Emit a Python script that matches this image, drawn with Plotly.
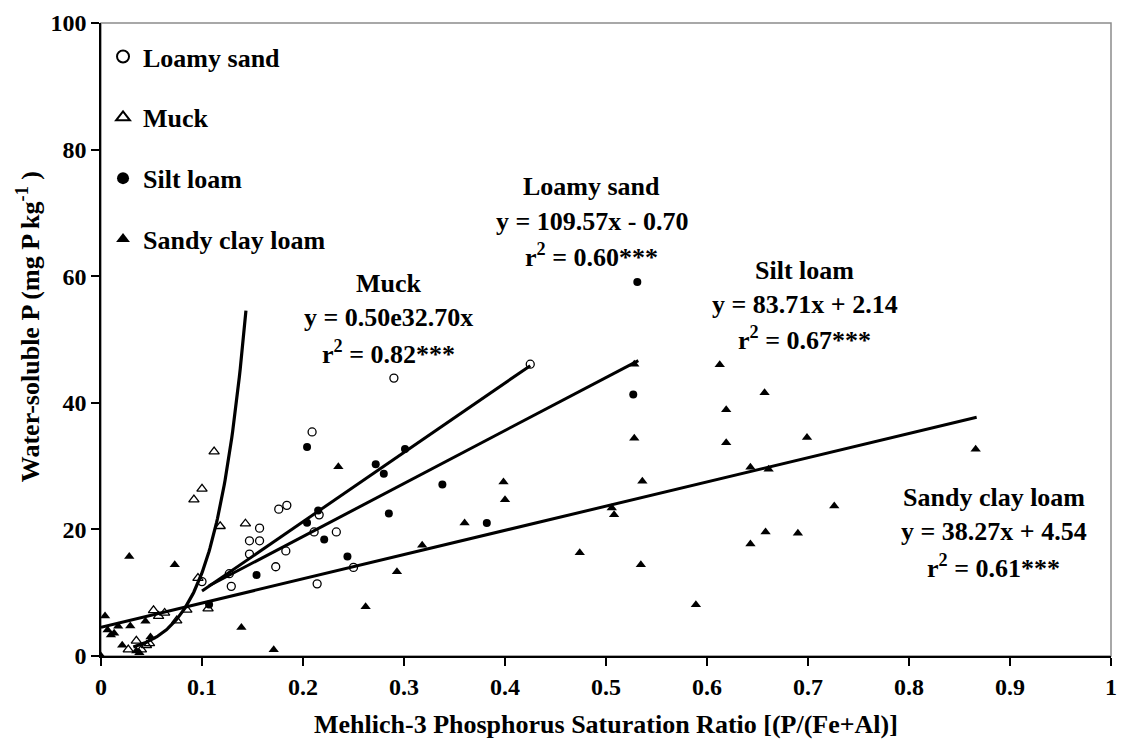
import numpy as np
import plotly.graph_objects as go

FONT = "Liberation Serif"

# --- Loamy sand (open circles)
loamy_x = [0.100, 0.127, 0.129, 0.147, 0.147, 0.157, 0.157, 0.173, 0.176, 0.184,
           0.183, 0.209, 0.211, 0.214, 0.216, 0.233, 0.250, 0.290, 0.425]
loamy_y = [11.75, 13.0, 11.0, 16.1, 18.2, 18.2, 20.2, 14.1, 23.2, 23.8,
           16.6, 35.4, 19.6, 11.4, 22.3, 19.6, 14.0, 43.9, 46.1]

# --- Muck (open triangles)
muck_x = [0.027, 0.035, 0.040, 0.045, 0.048, 0.052, 0.057, 0.063, 0.075, 0.085,
          0.092, 0.096, 0.100, 0.106, 0.112, 0.118, 0.143]
muck_y = [1.0, 2.4, 1.0, 1.7, 2.0, 7.2, 6.3, 6.8, 5.6, 7.3,
          24.7, 12.3, 26.4, 7.5, 32.3, 20.5, 20.9]

# --- Silt loam (filled circles)
silt_x = [0.107, 0.154, 0.204, 0.204, 0.215, 0.221, 0.244, 0.272, 0.280, 0.285,
          0.301, 0.338, 0.382, 0.527, 0.531]
silt_y = [8.15, 12.8, 33.0, 21.05, 23.0, 18.4, 15.7, 30.3, 28.8, 22.5,
          32.7, 27.1, 21.0, 41.3, 59.1]

# --- Sandy clay loam (filled triangles)
scl_x = [0.000, 0.004, 0.0065, 0.0098, 0.013, 0.017, 0.021, 0.028, 0.029, 0.035,
         0.038, 0.044, 0.049, 0.073, 0.139, 0.171, 0.235, 0.262, 0.293, 0.318,
         0.360, 0.3985, 0.400, 0.474, 0.5057, 0.508, 0.528, 0.528, 0.536, 0.5345,
         0.589, 0.6126, 0.619, 0.619, 0.643, 0.643, 0.657, 0.658, 0.661, 0.690,
         0.699, 0.726, 0.866]
scl_y = [0.0, 6.3, 4.1, 3.3, 3.6, 4.7, 1.7, 15.7, 4.75, 0.8,
         0.5, 5.5, 3.0, 14.4, 4.5, 1.0, 29.9, 7.8, 13.3, 17.5,
         21.0, 27.5, 24.7, 16.3, 23.4, 22.3, 46.1, 34.4, 27.6, 14.4,
         8.1, 46.0, 38.9, 33.7, 29.8, 17.7, 41.6, 19.6, 29.5, 19.4,
         34.5, 23.7, 32.65]

# --- Fitted regressions (coefficients as printed on the chart)
muck_a, muck_b, muck_range = 0.50, 32.70, (0.032, 0.1435)
loamy_m, loamy_c, loamy_range = 109.57, -0.70, (0.100, 0.425)
silt_m, silt_c, silt_range = 83.71, 2.14, (0.107, 0.532)
scl_m, scl_c, scl_range = 38.27, 4.54, (0.000, 0.867)

x_ticks = [0, 0.1, 0.2, 0.3, 0.4, 0.5, 0.6, 0.7, 0.8, 0.9, 1]
y_ticks = [0, 20, 40, 60, 80, 100]

fig = go.Figure()

mk_line = dict(color="black", width=1.3)
fig.add_trace(go.Scatter(x=loamy_x, y=loamy_y, mode="markers", name="Loamy sand",
                         legendgroup="ls",
                         marker=dict(symbol="circle-open", size=8, color="black", line=mk_line)))
fig.add_trace(go.Scatter(x=muck_x, y=muck_y, mode="markers", name="Muck",
                         legendgroup="mu",
                         marker=dict(symbol="triangle-up-open", size=9, color="black", line=mk_line)))
fig.add_trace(go.Scatter(x=silt_x, y=silt_y, mode="markers", name="Silt loam",
                         legendgroup="sl",
                         marker=dict(symbol="circle", size=8, color="black")))
fig.add_trace(go.Scatter(x=scl_x, y=scl_y, mode="markers", name="Sandy clay loam",
                         legendgroup="scl",
                         marker=dict(symbol="triangle-up", size=9, color="black")))

# trend lines
xm = np.linspace(*muck_range, 120)
fig.add_trace(go.Scatter(x=xm, y=muck_a * np.exp(muck_b * xm), mode="lines",
                         legendgroup="mu", showlegend=False, hoverinfo="skip",
                         line=dict(color="black", width=3.2)))
for (m, c, rng, grp) in [(loamy_m, loamy_c, loamy_range, "ls"),
                         (silt_m, silt_c, silt_range, "sl"),
                         (scl_m, scl_c, scl_range, "scl")]:
    xl = np.array(rng)
    fig.add_trace(go.Scatter(x=xl, y=m * xl + c, mode="lines", legendgroup=grp,
                             showlegend=False, hoverinfo="skip",
                             line=dict(color="black", width=3)))

# equation labels: title, equation and r² as separate centred lines
labels = [
    (0.285, [58.9, 53.4, 47.9], ["Muck", "y = 0.50e32.70x", "r<sup>2</sup> = 0.82***"]),
    (0.486, [74.1, 68.7, 63.3], ["Loamy sand", "y = 109.57x - 0.70", "r<sup>2</sup> = 0.60***"]),
    (0.697, [60.9, 55.5, 50.1], ["Silt loam", "y = 83.71x + 2.14", "r<sup>2</sup> = 0.67***"]),
    (0.884, [25.0, 19.6, 14.2], ["Sandy clay loam", "y = 38.27x + 4.54", "r<sup>2</sup> = 0.61***"]),
]
for lx, ys, lines in labels:
    for ly, txt in zip(ys, lines):
        fig.add_annotation(x=lx, y=ly, xref="x", yref="y", text="<b>" + txt + "</b>",
                           showarrow=False, xanchor="center", yanchor="middle",
                           font=dict(family=FONT, size=26, color="black"))

# axis titles
fig.add_annotation(x=0.5, y=-0.108, xref="paper", yref="paper",
                   text="<b>Mehlich-3 Phosphorus Saturation Ratio [(P/(Fe+Al)]</b>",
                   showarrow=False, xanchor="center", yanchor="middle",
                   font=dict(family=FONT, size=26, color="black"))
fig.add_annotation(x=-0.071, y=0.52, xref="paper", yref="paper",
                   text="<b>Water-soluble P (mg P kg<sup>-1</sup> )</b>", textangle=-90,
                   showarrow=False, xanchor="center", yanchor="middle",
                   font=dict(family=FONT, size=26, color="black"))

# grey plot-area frame
fig.add_shape(type="rect", xref="paper", yref="paper", x0=0, y0=0, x1=1, y1=1,
              line=dict(color="#8c8c8c", width=1.5), layer="below")

axis_common = dict(showgrid=False, zeroline=False, showline=True, linecolor="black",
                   linewidth=1.5, ticks="outside", ticklen=8, tickwidth=1.5,
                   tickcolor="black",
                   tickfont=dict(family=FONT, size=24, color="black", weight="bold"))

fig.update_xaxes(range=[0, 1], tickvals=x_ticks, ticktext=[f"{v:g}" for v in x_ticks],
                 **axis_common)
fig.update_yaxes(range=[0, 100], tickvals=y_ticks, ticktext=[str(v) for v in y_ticks],
                 **axis_common)

fig.update_layout(
    width=1127, height=752,
    margin=dict(l=101, r=10, t=18, b=96),
    plot_bgcolor="white", paper_bgcolor="white",
    showlegend=True,
    legend=dict(x=0.002, y=0.984, xanchor="left", yanchor="top",
                bgcolor="rgba(0,0,0,0)", tracegroupgap=24, itemsizing="constant",
                font=dict(family=FONT, size=26, color="black", weight="bold")),
)

fig.write_html("out.html")
